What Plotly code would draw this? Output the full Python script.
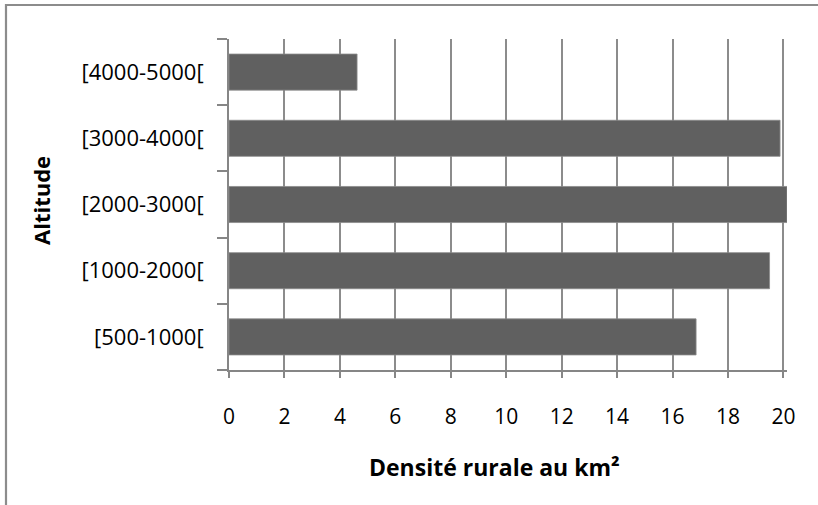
import plotly.graph_objects as go

categories = ["[500-1000[", "[1000-2000[", "[2000-3000[", "[3000-4000[", "[4000-5000["]
densite = [16.85, 19.5, 20.13, 19.88, 4.62]
x_ticks = [0, 2, 4, 6, 8, 10, 12, 14, 16, 18, 20]

W, H = 818, 505
L, R, T, B = 229, 784, 39, 370  # plot area pixels
XMAX = 20.13
PW = R + 3 - L

fig = go.Figure(go.Bar(
    x=densite, y=categories, orientation="h",
    marker=dict(color="#606060", line=dict(color="#8a8a8a", width=0.8)),
    width=0.545,
))

font = "Open Sans"
fig.update_layout(
    width=W, height=H,
    margin=dict(l=L, r=W - R - 3, t=T, b=H - B, pad=0),
    paper_bgcolor="white", plot_bgcolor="white",
    showlegend=False,
    font=dict(family=font, size=21, color="#000000"),
    xaxis=dict(
        range=[0, XMAX], tickvals=x_ticks, ticktext=[str(v) for v in x_ticks],
        showgrid=True, gridcolor="#8c8c8c", gridwidth=1.5,
        showline=True, linecolor="#868686", linewidth=2,
        ticks="outside", ticklen=6, tickcolor="#868686", tickwidth=1.5,
        tickfont=dict(size=21, family=font), zeroline=False,
        ticklabelstandoff=21, fixedrange=True,
    ),
    yaxis=dict(
        categoryorder="array", categoryarray=categories,
        showline=True, linecolor="#868686", linewidth=2,
        ticks="outside", ticklen=10, tickcolor="#868686", tickwidth=1.5,
        tickson="boundaries", showgrid=False,
        tickfont=dict(size=22, family=font), ticklabelstandoff=19,
        fixedrange=True,
    ),
    annotations=[
        dict(text="<b>Densité rurale au km²</b>", xref="paper", yref="paper",
             x=(494 - L) / PW, y=-(467 - B) / (B - T),
             xanchor="center", yanchor="middle", showarrow=False,
             font=dict(size=23, family=font)),
        dict(text="<b>Altitude</b>", xref="paper", yref="paper",
             x=-(L - 41) / PW, y=(B - 201) / (B - T),
             xanchor="center", yanchor="middle", textangle=-90, showarrow=False,
             font=dict(size=22, family=font)),
    ],
    shapes=[
        dict(type="rect", xref="paper", yref="paper",
             x0=-(L - 6) / PW, x1=(W + 20 - L) / PW,
             y0=-(H + 20 - B) / (B - T), y1=(B - 5) / (B - T),
             line=dict(color="#8c8c8c", width=2.2), layer="below"),
    ],
)

fig.write_html("out.html", config={"displayModeBar": False},
               post_script="document.body.style.margin='0';document.body.style.overflow='hidden';")
